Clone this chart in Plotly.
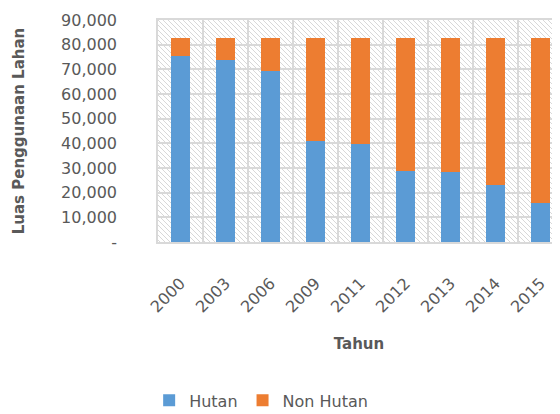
import base64
import plotly.graph_objs as go

years = ['2000', '2003', '2006', '2009', '2011', '2012', '2013', '2014', '2015']
hutan = [75500, 73900, 69300, 40950, 39850, 28800, 28250, 23100, 15700]
non_hutan = [7050, 8650, 13250, 41600, 42700, 53750, 54300, 59450, 66850]
y_ticks = [0, 10000, 20000, 30000, 40000, 50000, 60000, 70000, 80000, 90000]
y_tick_text = ['-', '10,000', '20,000', '30,000', '40,000', '50,000', '60,000', '70,000', '80,000', '90,000']

GRID = '#d9d9d9'
TEXT = '#595959'
FONT = 'DejaVu Sans'

# diagonal hatch behind the bars, like the excel plot area fill
hatch = ('<svg xmlns="http://www.w3.org/2000/svg" width="402" height="222">'
         '<defs><pattern id="h" width="5" height="5" patternUnits="userSpaceOnUse">'
         '<path d="M0,0 L5,5 M-1,4 L1,6 M4,-1 L6,1" stroke="#d4d4d4" stroke-width="0.9"/>'
         '</pattern></defs><rect width="100%" height="100%" fill="white"/>'
         '<rect width="100%" height="100%" fill="url(#h)"/></svg>')
hatch_src = 'data:image/svg+xml;base64,' + base64.b64encode(hatch.encode()).decode()

fig = go.Figure()
fig.add_trace(go.Bar(x=years, y=hutan, name='Hutan', marker_color='#5b9bd5', width=0.41))
fig.add_trace(go.Bar(x=years, y=non_hutan, name='Non Hutan', marker_color='#ed7d31', width=0.41))
fig.update_traces(marker_line_width=0)

# page body has an 8px margin, so the figure is shifted by that much
fig.update_layout(
    width=560, height=414,
    margin=dict(l=150, r=8, t=12, b=180),
    barmode='stack',
    paper_bgcolor='white', plot_bgcolor='rgba(0,0,0,0)',
    font=dict(family=FONT, color=TEXT, size=14),
    images=[dict(source=hatch_src, xref='paper', yref='paper', x=0, y=1, sizex=1, sizey=1,
                 sizing='stretch', layer='below', xanchor='left', yanchor='top')],
    legend=dict(orientation='h', x=-0.022, y=0.052, yref='container', xanchor='left', yanchor='middle',
                font=dict(size=16, color=TEXT), traceorder='normal'),
    showlegend=True,
)
fig.update_xaxes(range=[-0.5, 8.43], tickson='boundaries', showgrid=True, gridcolor=GRID, gridwidth=1.5,
                 showline=True, linecolor=GRID, linewidth=1.5, mirror=True, ticks='', automargin=False,
                 tickangle=-45, tickfont=dict(size=16, color=TEXT), ticklabelstandoff=24,
                 title=dict(text='<b>Tahun</b>', font=dict(size=15, color=TEXT), standoff=23))
fig.update_yaxes(range=[0, 90000], tickvals=y_ticks, ticktext=y_tick_text, showgrid=True,
                 gridcolor=GRID, gridwidth=1.5, showline=True, linecolor=GRID, linewidth=1.5, mirror=True,
                 ticks='', zeroline=False, tickfont=dict(size=16, color=TEXT), ticklabelstandoff=36,
                 automargin=False,
                 title=dict(text='<b>Luas Penggunaan Lahan</b>', font=dict(size=15, color=TEXT), standoff=33))

fig.write_html("out.html")
